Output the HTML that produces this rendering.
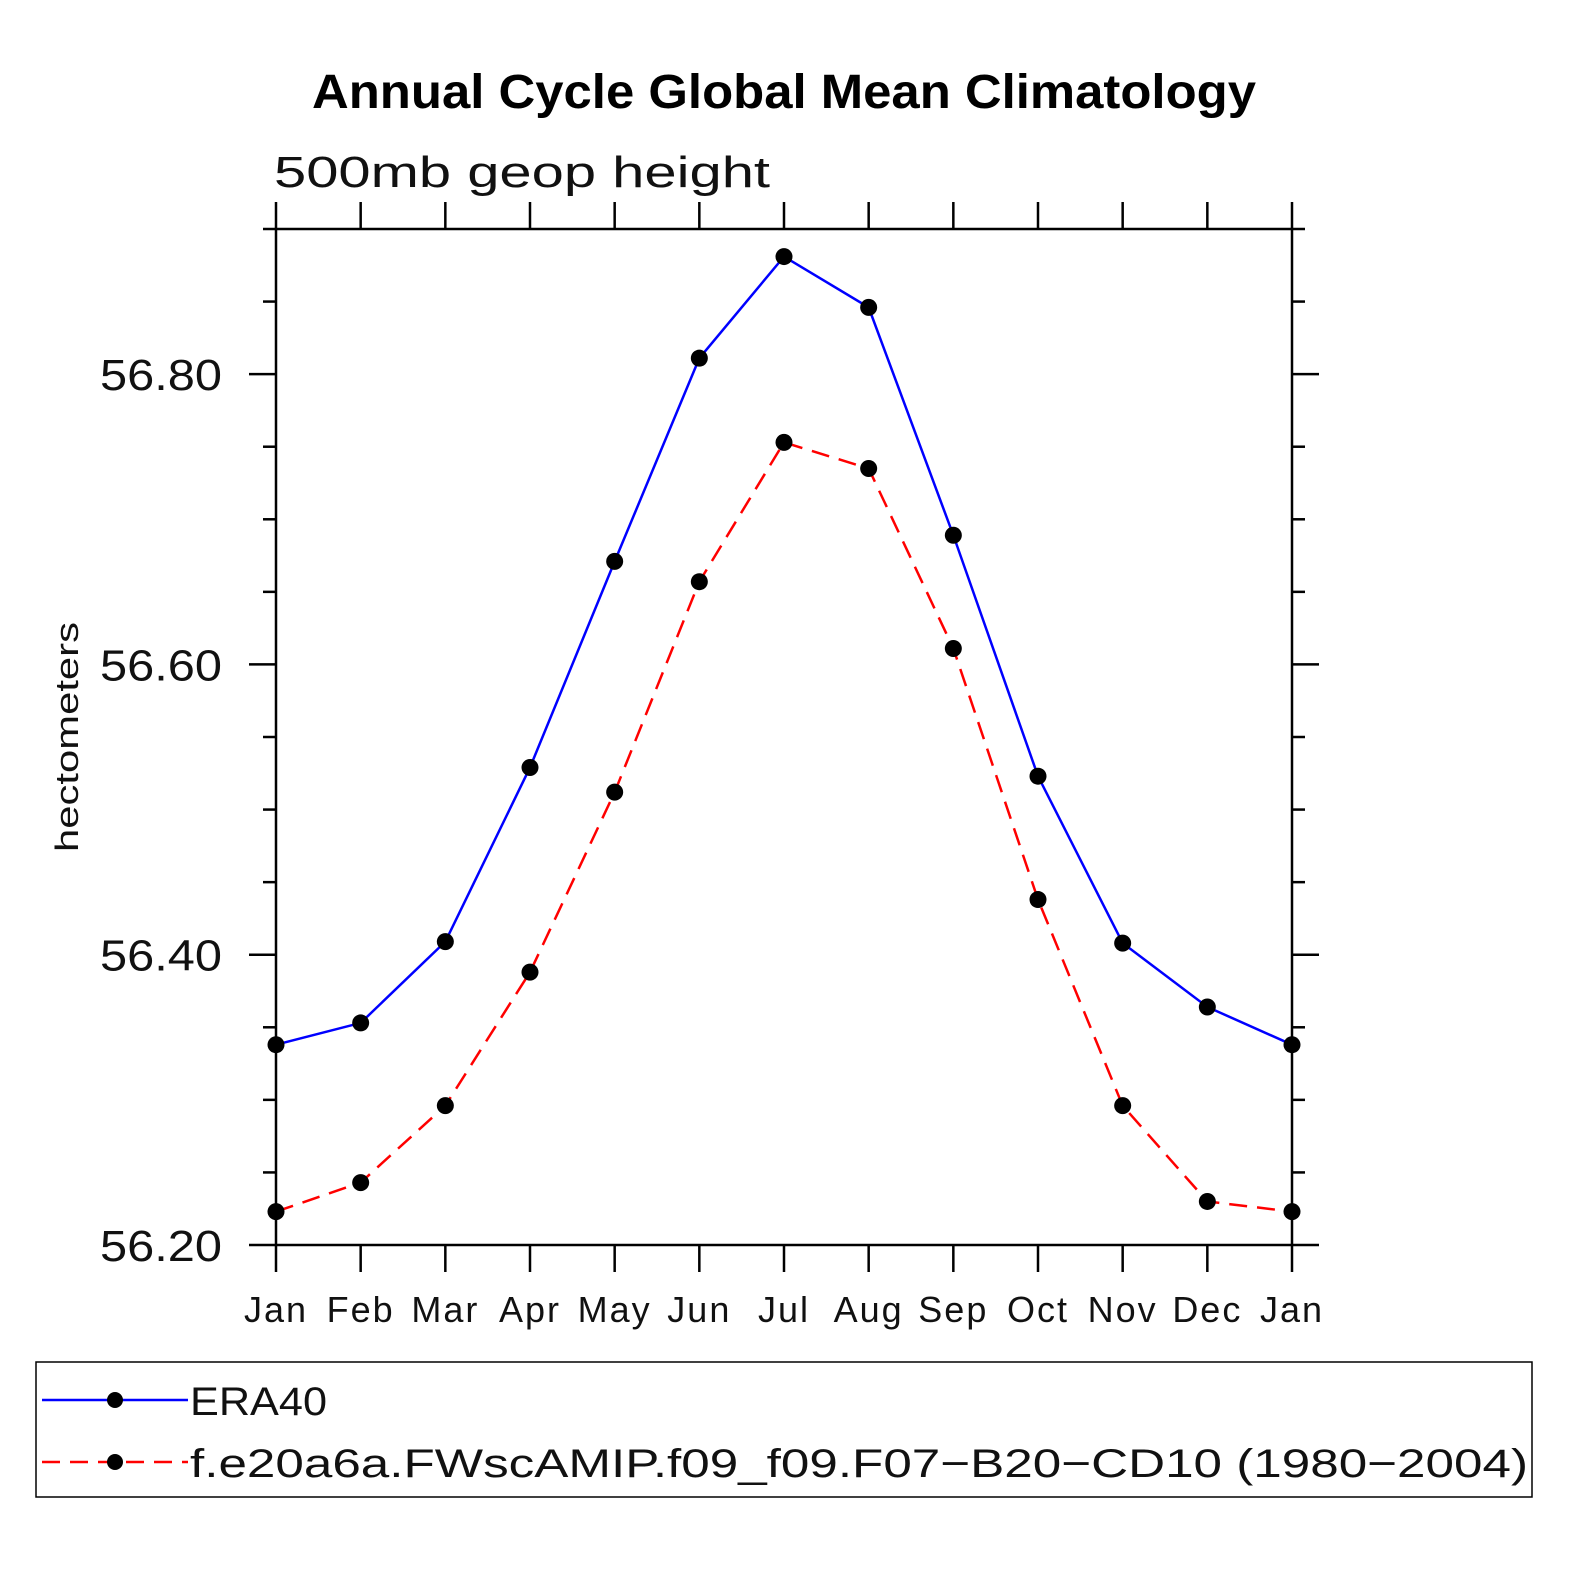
<!DOCTYPE html>
<html><head><meta charset="utf-8"><style>
html,body{margin:0;padding:0;background:#fff;}
svg text{font-family:"Liberation Sans",sans-serif;}
</style></head><body>
<svg width="1574" height="1574" viewBox="0 0 1574 1574" xmlns="http://www.w3.org/2000/svg">
<text x="312" y="108" textLength="944" lengthAdjust="spacingAndGlyphs" font-size="48" font-weight="bold">Annual Cycle Global Mean Climatology</text>
<text x="274" y="187" textLength="496" lengthAdjust="spacingAndGlyphs" font-size="44" fill="#111">500mb  geop  height</text>
<text transform="translate(78,852) rotate(-90)" textLength="230" lengthAdjust="spacingAndGlyphs" font-size="32" fill="#111">hectometers</text>
<g id="axes"></g>
<g id="series"></g>
<rect x="36" y="1362" width="1496" height="135" fill="none" stroke="#000" stroke-width="1.5"/>
<g>
<line x1="42" y1="1400" x2="188" y2="1400" stroke="#0000ff" stroke-width="2.5"/>
<circle cx="115" cy="1400" r="8" fill="#000"/>
<text x="190" y="1415" textLength="137" lengthAdjust="spacingAndGlyphs" font-size="40" fill="#111">ERA40</text></g>
<g>
<line x1="42" y1="1462" x2="188" y2="1462" stroke="#ff0000" stroke-width="2.5" stroke-dasharray="18,10"/>
<circle cx="115" cy="1462" r="8" fill="#000"/>
<text x="190" y="1477" textLength="1338" lengthAdjust="spacingAndGlyphs" font-size="40" fill="#111">f.e20a6a.FWscAMIP.f09_f09.F07−B20−CD10 (1980−2004)</text></g>
</svg>
<script>
const months=["Jan","Feb","Mar","Apr","May","Jun","Jul","Aug","Sep","Oct","Nov","Dec","Jan"];
const era40=[56.338,56.353,56.409,56.529,56.671,56.811,56.881,56.846,56.689,56.523,56.408,56.364,56.338];
const model=[56.223,56.243,56.296,56.388,56.512,56.657,56.753,56.735,56.611,56.438,56.296,56.230,56.223];
const yTicks=[56.2,56.4,56.6,56.8];
const yTickLabels=["56.20","56.40","56.60","56.80"];
const NS="http://www.w3.org/2000/svg";
const L=276,R=1292,T=229,B=1245,yMin=56.2,yMax=56.9;
const xs=i=>L+i*(R-L)/(months.length-1);
const ys=v=>B-(v-yMin)/(yMax-yMin)*(B-T);
function mk(tag,attrs,parent){const e=document.createElementNS(NS,tag);for(const k in attrs)e.setAttribute(k,attrs[k]);parent.appendChild(e);return e;}
const ax=document.getElementById('axes');
const frame=mk('rect',{x:L,y:T,width:R-L,height:B-T,fill:'none',stroke:'#000','stroke-width':2.5},ax);


months.forEach((m,i)=>{
  const x=xs(i);
  const t1=mk('line',{x1:x,y1:B,x2:x,y2:B+27,stroke:'#000','stroke-width':2.5},ax);
  
  
  const t2=mk('line',{x1:x,y1:T,x2:x,y2:T-27,stroke:'#000','stroke-width':2.5},ax);
  
  
  const tx=mk('text',{x:x,y:1322,'text-anchor':'middle','letter-spacing':2,'font-size':36,fill:'#111'},ax);
  tx.textContent=m;
  
  
});
for(let v=yMin;v<=yMax+1e-9;v+=0.05){
  const y=ys(v);
  const major=yTicks.some(t=>Math.abs(t-v)<1e-6);
  const len=major?27:13;
  const a=mk('line',{x1:L-len,y1:y,x2:L,y2:y,stroke:'#000','stroke-width':2.5},ax);
  
  
  const b=mk('line',{x1:R,y1:y,x2:R+len,y2:y,stroke:'#000','stroke-width':2.5},ax);
  
  
}
yTicks.forEach((v,i)=>{
  const tx=mk('text',{x:100,y:ys(v)+16,textLength:122,lengthAdjust:'spacingAndGlyphs','font-size':44,fill:'#111'},ax);
  tx.textContent=yTickLabels[i];
  
  
});
const sg=document.getElementById('series');
function series(data,color,dash,name){
  const g=mk('g',{},sg);
  
  
  const pts=data.map((v,i)=>xs(i)+','+ys(v)).join(' ');
  const pl=mk('polyline',{points:pts,fill:'none',stroke:color,'stroke-width':2.5,'stroke-dasharray':dash},g);
  
  
  data.forEach((v,i)=>{
    const c=mk('circle',{cx:xs(i),cy:ys(v),r:8.5,fill:'#000'},g);
    
    
  });
}
series(era40,'#0000ff','none','era40-series');
series(model,'#ff0000','18,10','model-series');
</script>
</body></html>
